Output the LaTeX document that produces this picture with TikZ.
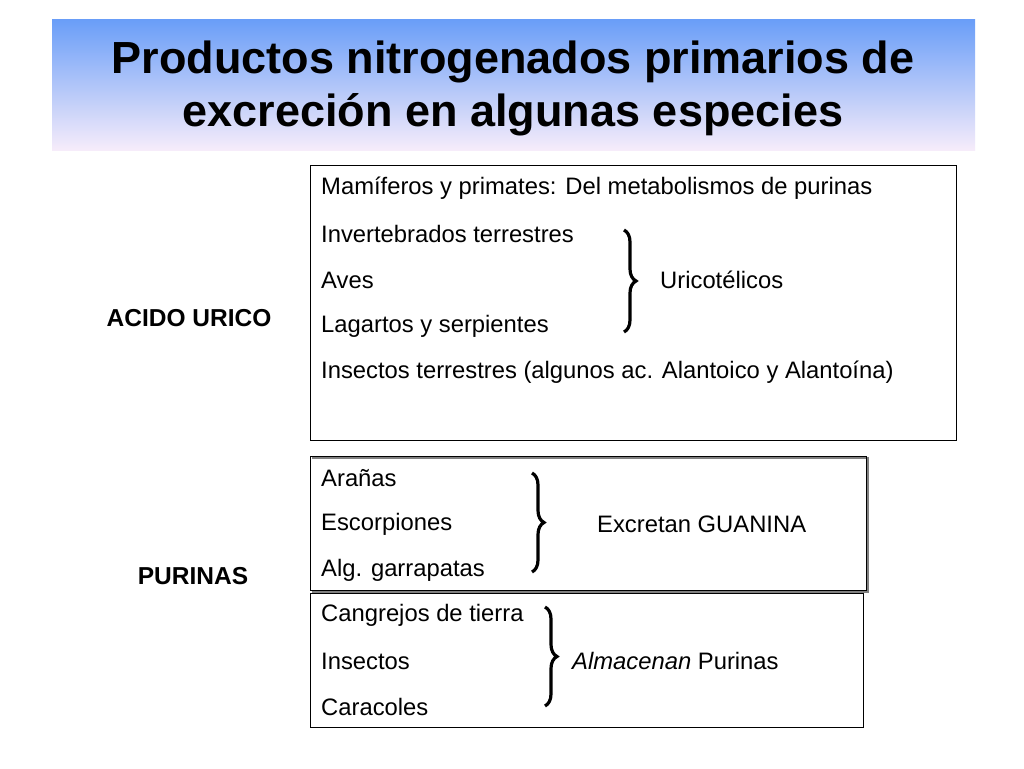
\documentclass[tikz,border=0pt]{standalone}
\usepackage{fontspec}
\setmainfont{Liberation Sans}
\usetikzlibrary{decorations.pathreplacing}
\begin{document}
\begin{tikzpicture}[x=1pt,y=-1pt,
  txt/.style={anchor=west,inner sep=0pt,font=\fontsize{23.8}{27}\selectfont},
  lbl/.style={inner sep=0pt,font=\fontsize{24.5}{28}\selectfont\bfseries},
  box/.style={draw=black,line width=0.8pt},
  br/.style={decorate,decoration={brace,amplitude=12pt},line width=3.2pt}]
\useasboundingbox (0,0) rectangle (1024,768);
\fill[white] (0,0) rectangle (1024,768);
\shade[top color={rgb,255:red,106;green,158;blue,248},bottom color={rgb,255:red,246;green,236;blue,250}] (52,20) rectangle (975,150);
\node[inner sep=0pt,align=center,font=\fontsize{45}{53}\selectfont\bfseries] (title) at (513,88) {Productos nitrogenados primarios de\\excreción en algunas especies};
% box 1
\draw[box] (310,165) rectangle (956,440);
\node[txt] (a1) at (321,188) {Mamíferos y primates: Del metabolismos de purinas};
\node[txt] (a2) at (321,234) {Invertebrados terrestres};
\node[txt] (a3) at (321,280) {Aves};
\node[txt] (a4) at (321,326) {Lagartos y serpientes};
\node[txt] (a5) at (321,372) {Insectos terrestres (algunos ac. Alantoico y Alantoína)};
\draw[br] (624,230) -- (624,332);
\node[txt] (u) at (660,280) {Uricotélicos};
\node[lbl] (au) at (189,318) {ACIDO URICO};
% box 2
\draw[gray,line width=1.5pt] (312,458) -- (868,458) -- (868,592) -- (312,592);
\draw[box] (310,456) rectangle (866,590);
\node[txt] (b1) at (321,478) {Arañas};
\node[txt] (b2) at (321,524) {Escorpiones};
\node[txt] (b3) at (321,570) {Alg. garrapatas};
\draw[br] (532,473) -- (532,572);
\node[txt] (g) at (597,524) {Excretan GUANINA};
% box 3
\draw[box] (310,593) rectangle (863,727);
\node[txt] (c1) at (321,615) {Cangrejos de tierra};
\node[txt] (c2) at (321,661) {Insectos};
\node[txt] (c3) at (321,707) {Caracoles};
\draw[br] (545,607) -- (545,706);
\node[txt] (p) at (572,661) {\itshape Almacenan\upshape{} Purinas};
\node[lbl] (pu) at (193,576) {PURINAS};
\end{tikzpicture}
\end{document}
